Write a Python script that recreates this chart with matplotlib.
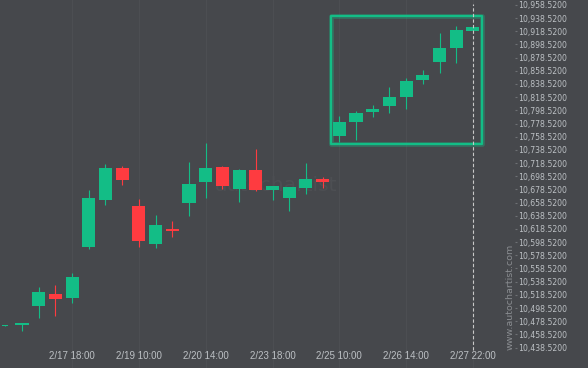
import matplotlib
matplotlib.use("Agg")
import matplotlib.pyplot as plt
from matplotlib.patches import Rectangle

BG = "#46484c"
UP = "#13bd86"
DOWN = "#fe3b40"
TEXT = "#bcc0c4"

# OHLC
opens = [10471.8, 10472.8, 10502.0, 10520.2, 10514.2, 10591.6, 10662.9, 10711.0,
         10653.3, 10596.1, 10618.4, 10658.3, 10689.8, 10712.5, 10679.6, 10708.0,
         10678.1, 10665.9, 10681.1, 10694.8, 10760.0, 10781.3, 10796.4, 10805.5,
         10819.2, 10845.0, 10872.3, 10893.6, 10919.3]
highs = [10472.8, 10475.8, 10530.4, 10533.0, 10551.7, 10677.2, 10717.1, 10714.0,
         10663.5, 10639.7, 10630.6, 10720.1, 10748.9, 10714.0, 10709.5, 10739.8,
         10683.7, 10682.2, 10718.6, 10697.8, 10789.9, 10797.5, 10806.6, 10834.4,
         10847.1, 10859.7, 10915.9, 10926.5, 10926.5]
lows = [10471.8, 10463.6, 10483.8, 10486.9, 10506.6, 10588.5, 10654.4, 10684.7,
        10591.6, 10590.1, 10606.7, 10638.6, 10665.0, 10678.7, 10659.4, 10676.1,
        10663.2, 10645.7, 10671.1, 10681.1, 10750.9, 10753.9, 10788.8, 10794.9,
        10800.5, 10838.0, 10854.7, 10869.9, 10918.9]
closes = [10472.8, 10475.8, 10522.8, 10512.7, 10546.0, 10665.5, 10711.0, 10693.2,
          10600.7, 10624.5, 10615.4, 10686.7, 10711.0, 10684.1, 10708.0, 10678.4,
          10683.7, 10682.2, 10694.3, 10690.2, 10780.8, 10794.5, 10800.5, 10818.7,
          10843.0, 10852.1, 10893.1, 10920.4, 10925.0]

tick_idx = [4, 8, 12, 16, 20, 24, 28]
tick_labels = ["2/17 18:00", "2/19 10:00", "2/20 14:00", "2/23 18:00",
               "2/25 10:00", "2/26 14:00", "2/27 22:00"]
price_ticks = [10438.52 + 20 * k for k in range(27)]

# pattern box (index / price)
box_x0, box_x1 = 19.49, 28.54
box_y0, box_y1 = 10747.4, 10941.7

fig = plt.figure(figsize=(5.88, 3.68), dpi=100)
fig.patch.set_facecolor(BG)
ax = fig.add_axes([0, 0, 515 / 588, 1])
ax.set_facecolor(BG)

n = len(opens)
xs = list(range(n))
colors = [UP if c >= o else DOWN for o, c in zip(opens, closes)]
widths = [0.36] + [0.78] * (n - 1)

ax.vlines(xs, lows, highs, colors=colors, linewidth=0.8, zorder=2)
ax.bar(xs, [max(abs(c - o), 1.2) for o, c in zip(opens, closes)],
       bottom=[min(o, c) for o, c in zip(opens, closes)],
       width=widths, color=colors, linewidth=0, zorder=3)

ax.set_xlim(-0.317, 30.52)
ax.set_ylim(10407.5, 10966.0)

for s in ax.spines.values():
    s.set_visible(False)

ax.set_xticks(tick_idx)
ax.set_xticklabels([])
ax.tick_params(axis="x", length=0)
ax.grid(axis="x", color="#4c4e52", linewidth=0.8, zorder=0)
for i, lab in zip(tick_idx, tick_labels):
    ax.text(i, 0.0332, lab, transform=ax.get_xaxis_transform(),
            ha="center", va="center", color=TEXT, fontsize=7.0,
            family="Liberation Sans")

ax.yaxis.tick_right()
ax.set_yticks(price_ticks)
ax.set_yticklabels([f"{v:,.4f}" for v in price_ticks])
ax.tick_params(axis="y", length=1.5, width=0.8, color="#6e7175", pad=0.8,
               labelsize=5.6, labelcolor=TEXT)

# highlighted pattern box
for lw, a in [(3.4, 0.35), (1.6, 1.0)]:
    ax.add_patch(Rectangle((box_x0, box_y0), box_x1 - box_x0, box_y1 - box_y0,
                           fill=False, edgecolor=UP, linewidth=lw, alpha=a,
                           joinstyle="round", zorder=4))

ax.axvline(n - 1, ymin=0.049, ymax=0.989, color="#c8c8c8", linewidth=0.8,
           linestyle=(0, (3, 2)), zorder=5)

ax.text(0.535, 0.495, "autochartist", transform=ax.transAxes, ha="center",
        va="center", fontsize=14.6, color="#4d4f53", zorder=1)
fig.text(510 / 588, 1 - 297 / 368, "www.autochartist.com", rotation=90,
         ha="center", va="center", fontsize=6.8, color="#8a8d91")

fig.savefig("out.png", dpi=100, facecolor=BG)
